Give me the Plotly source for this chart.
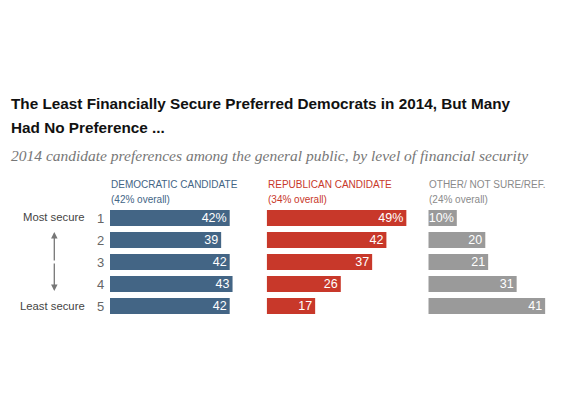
import plotly.graph_objects as go

levels = [1, 2, 3, 4, 5]
level_labels = ["1", "2", "3", "4", "5"]
dem = [42, 39, 42, 43, 42]
rep = [49, 42, 37, 26, 17]
other = [10, 20, 21, 31, 41]
series_names = ["DEMOCRATIC CANDIDATE", "REPUBLICAN CANDIDATE", "OTHER/ NOT SURE/REF."]
series_overall = ["(42% overall)", "(34% overall)", "(24% overall)"]
colors = ["#436585", "#c8382a", "#9a9a9a"]

OFF = 8  # page body margin
W, H = 569 - OFF, 398 - OFF
s = 2.85  # px per percentage point
starts = [110, 266.7, 428.3]
ranges = [50, 50, 48]

def fmt(vals):
    return [f"{v}%" if i == 0 else f"{v}" for i, v in enumerate(vals)]

fig = go.Figure()
axes = ["x", "x2", "x3"]
for k, vals in enumerate([dem, rep, other]):
    fig.add_trace(go.Bar(
        x=vals, y=levels, orientation="h", xaxis=axes[k], yaxis="y",
        marker=dict(color=colors[k], line=dict(width=0)),
        width=0.73, text=fmt(vals), textposition="inside", textangle=0,
        insidetextanchor="end", constraintext="none",
        textfont=dict(color="white", size=12.5, family="Arial"),
        hoverinfo="skip", showlegend=False,
    ))

# y axis: value 1 at page y=218, 22 px per row
top_val = 1 - (218 - OFF) / 22
layout = dict(
    width=W, height=H, margin=dict(l=0, r=0, t=0, b=0),
    paper_bgcolor="white", plot_bgcolor="white",
    uniformtext=dict(minsize=12.5, mode="show"),
    yaxis=dict(range=[top_val + H / 22, top_val], visible=False, domain=[0, 1]),
)
for k in range(3):
    name = "xaxis" if k == 0 else f"xaxis{k+1}"
    x0 = (starts[k] - OFF) / W
    x1 = (starts[k] - OFF + ranges[k] * s) / W
    layout[name] = dict(domain=[x0, min(x1, 1)], range=[0, ranges[k]], visible=False,
                        anchor="y", fixedrange=True)
fig.update_layout(**layout)

ann = []
ann.append(dict(x=9, y=103, text="<b>The Least Financially Secure Preferred Democrats in 2014, But Many</b>",
                xanchor="left", yanchor="middle",
                font=dict(family="Arial", size=15.3, color="#111")))
ann.append(dict(x=9, y=127, text="<b>Had No Preference ...</b>",
                xanchor="left", yanchor="middle",
                font=dict(family="Arial", size=15.3, color="#111")))
ann.append(dict(x=9, y=155, text="<i>2014 candidate preferences among the general public, by level of financial security</i>",
                xanchor="left", yanchor="middle",
                font=dict(family="Liberation Serif", size=15.5, color="#777")))
for k in range(3):
    c = colors[k] if k < 2 else "#8a8a8a"
    ann.append(dict(x=starts[k] - 1, y=185, text=series_names[k], xanchor="left", yanchor="middle",
                    font=dict(family="Arial", size=10, color=c)))
    ann.append(dict(x=starts[k] - 1, y=199, text=series_overall[k], xanchor="left", yanchor="middle",
                    font=dict(family="Arial", size=10, color=c)))
for i, lab in enumerate(level_labels):
    ann.append(dict(x=106, y=218 + 22 * i, text=lab, xanchor="right", yanchor="middle",
                    font=dict(family="Arial", size=13, color="#666")))
ann.append(dict(x=87, y=217, text="Most secure", xanchor="right", yanchor="middle",
                font=dict(family="Arial", size=11.3, color="#444")))
ann.append(dict(x=87, y=306, text="Least secure", xanchor="right", yanchor="middle",
                font=dict(family="Arial", size=11.3, color="#444")))

for a in ann:
    a["xref"] = "paper"
    a["yref"] = "paper"
    a["x"] = (a["x"] - OFF) / W
    a["y"] = 1 - (a["y"] - OFF) / H
    a["showarrow"] = False

# Double arrow
for head_y, dy in [(232, 30), (291, -29)]:
    ann.append(dict(x=(54.3 - OFF) / W, y=1 - (head_y - OFF) / H, xref="paper", yref="paper",
                    ax=0, ay=dy, axref="pixel", ayref="pixel", showarrow=True,
                    arrowhead=2, arrowsize=1, arrowwidth=1.3, arrowcolor="#777", text=""))
fig.update_layout(annotations=ann)

fig.write_html("out.html")
